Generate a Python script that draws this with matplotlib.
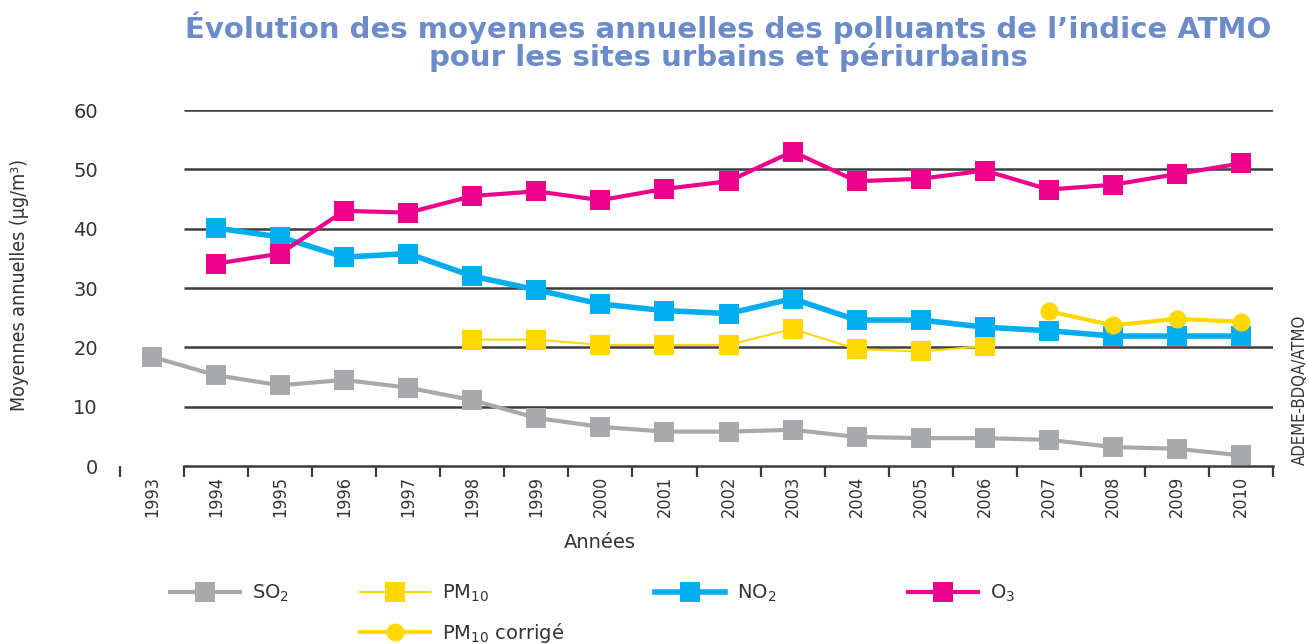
import matplotlib

matplotlib.use("Agg")
import matplotlib.pyplot as plt
from matplotlib.lines import Line2D
import numpy as np

years = list(range(1993, 2011))

# annual means, µg/m3
so2 = [18.4, 15.3, 13.6, 14.5, 13.2, 11.1, 8.1, 6.6, 5.8, 5.8, 6.1, 4.9, 4.7, 4.7, 4.4, 3.2, 2.9, 1.8]
no2 = [None, 40.1, 38.6, 35.2, 35.8, 32.0, 29.7, 27.3, 26.2, 25.7, 28.2, 24.6, 24.6, 23.4, 22.8, 21.9, 21.9, 21.9]
o3 = [None, 34.1, 35.8, 43.0, 42.7, 45.5, 46.3, 44.8, 46.7, 48.0, 53.0, 48.0, 48.4, 49.8, 46.6, 47.4, 49.2, 51.0]
pm10 = [None] * 5 + [21.3, 21.3, 20.4, 20.4, 20.4, 23.1, 19.7, 19.3, 20.2, None, None, None, None]
pm10_corr = [None] * 14 + [26.1, 23.7, 24.8, 24.3]

y_ticks = [0, 10, 20, 30, 40, 50, 60]

GRAY = "#a7a9ac"
YELLOW = "#ffd800"
BLUE = "#00aeef"
PINK = "#ec008c"
GRID = "#3c3c3c"
TITLE = "#6b8cc9"
TXT = "#333333"


def arr(v):
    return np.array([np.nan if x is None else x for x in v], dtype=float)


fig = plt.figure(figsize=(13.09, 6.44), dpi=100)
ax = fig.add_axes([120 / 1309, 1 - 466 / 644, 1153 / 1309, 356 / 644])
ax.set_xlim(years[0] - 0.5, years[-1] + 0.5)
ax.set_ylim(0, 60)

ax.hlines(y_ticks[1:], years[0] + 0.5, years[-1] + 0.5, color=GRID, lw=1.8, zorder=1)

series = [
    (so2, GRAY, 3.0, "s", 14, "SO$_2$"),
    (pm10, YELLOW, 1.5, "s", 14, "PM$_{10}$"),
    (no2, BLUE, 4.0, "s", 14, "NO$_2$"),
    (o3, PINK, 3.0, "s", 14, "O$_3$"),
    (pm10_corr, YELLOW, 3.0, "o", 13, "PM$_{10}$ corrigé"),
]
handles = []
for vals, col, lw, mk, ms, lab in series:
    ax.plot(years, arr(vals), color=col, lw=lw, marker=mk, ms=ms, mew=0, zorder=3)
    handles.append(Line2D([], [], color=col, lw=lw, marker=mk, ms=ms, mew=0, label=lab))

for s in ["left", "right", "top"]:
    ax.spines[s].set_visible(False)
ax.spines["bottom"].set_bounds(years[0] + 0.5, years[-1] + 0.5)
ax.spines["bottom"].set_color(GRID)
ax.spines["bottom"].set_linewidth(1.8)

ax.set_yticks(y_ticks)
ax.tick_params(axis="y", length=0, pad=16, labelsize=14, labelcolor=TXT)
ax.set_xticks(years)
ax.set_xticklabels([str(y) for y in years], rotation=90, fontsize=13,
                   family="DejaVu Sans", fontstretch="condensed", color=TXT)
ax.tick_params(axis="x", which="major", length=0, pad=7)
ax.set_xticks(np.arange(years[0] - 0.5, years[-1] + 1), minor=True)
ax.tick_params(axis="x", which="minor", length=8, width=1.6, color=GRID)

fig.text(728 / 1309, 1 - 28 / 644, "Évolution des moyennes annuelles des polluants de l’indice ATMO",
         ha="center", va="center", fontsize=21, fontweight="bold", color=TITLE)
fig.text(728 / 1309, 1 - 57 / 644, "pour les sites urbains et périurbains",
         ha="center", va="center", fontsize=21, fontweight="bold", color=TITLE)

fig.text(20 / 1309, 1 - 285 / 644, "Moyennes annuelles (µg/m³)", rotation=90,
         ha="center", va="center", fontsize=14, family="DejaVu Sans",
         fontstretch="condensed", color=TXT)
fig.text(600 / 1309, 1 - 543 / 644, "Années", ha="center", va="center", fontsize=14, color=TXT)
fig.text(1300 / 1309, 1 - 465 / 644, "ADEME-BDQA/ATMO", rotation=90,
         ha="center", va="bottom", fontsize=12, family="DejaVu Sans",
         fontstretch="condensed", color=TXT)

# legend: one small legend per entry so the positions follow the original
leg_pos = [(170, 593), (360, 593), (655, 593), (908, 593), (360, 633)]
for h, (px, py) in zip(handles, leg_pos):
    fig.legend(handles=[h], loc="center left",
               bbox_to_anchor=(px / 1309, 1 - py / 644), frameon=False,
               fontsize=14, handlelength=3.6, handletextpad=0.6,
               borderpad=0, borderaxespad=0, labelcolor=TXT)

fig.savefig("out.png", dpi=100)
